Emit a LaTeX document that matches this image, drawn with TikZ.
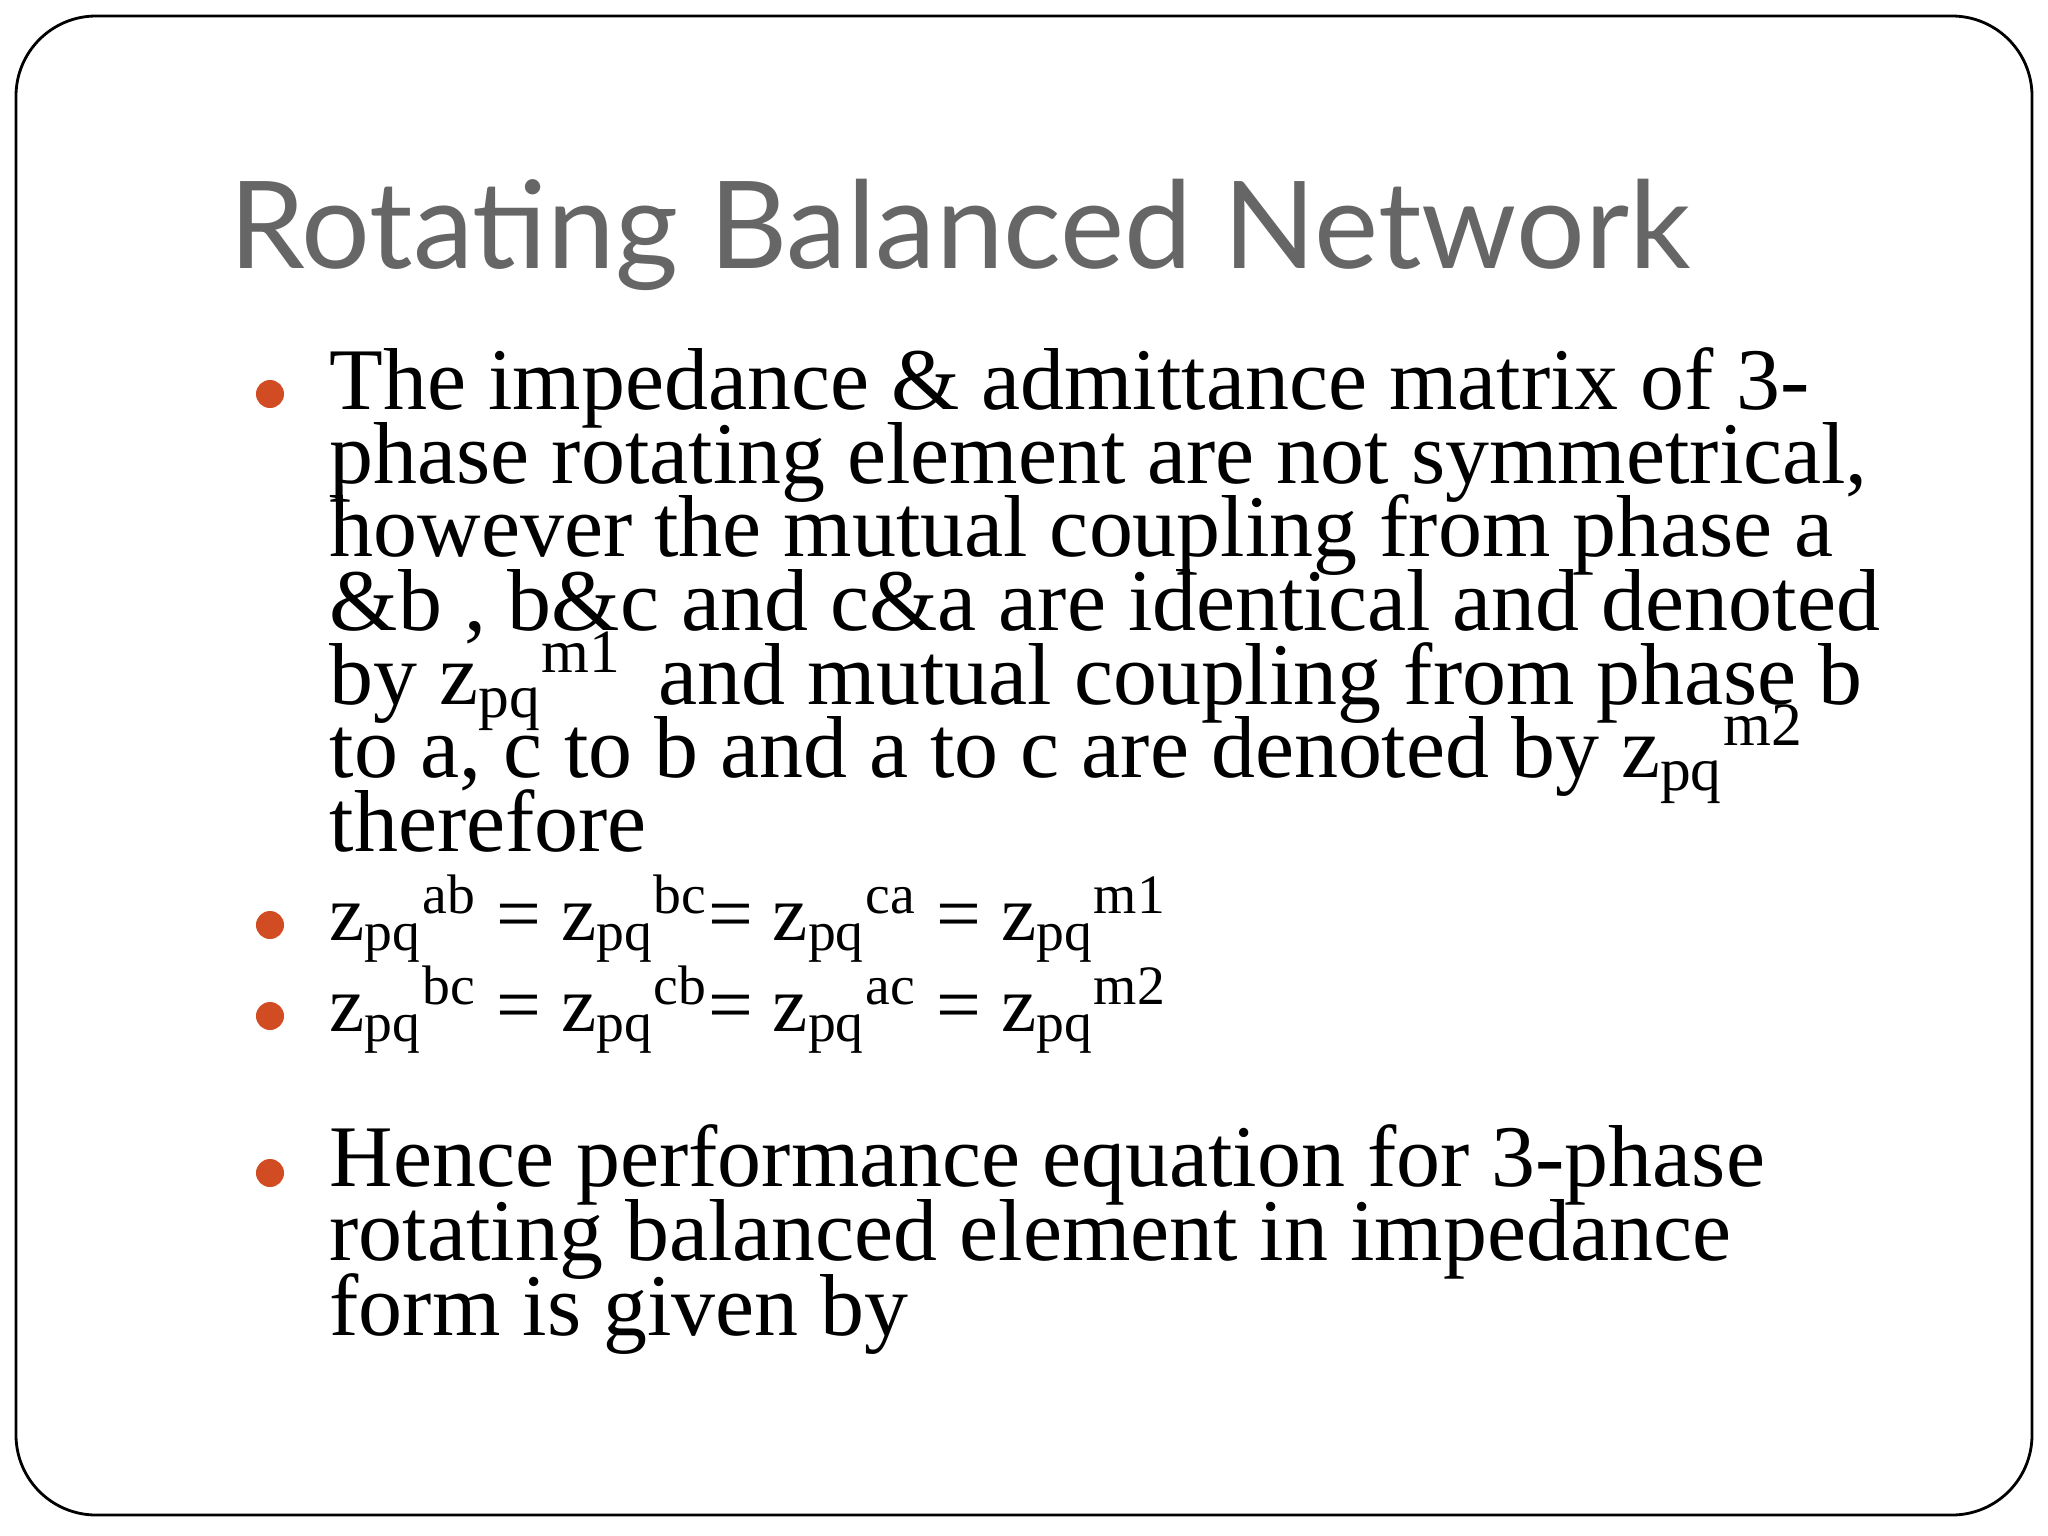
\documentclass[tikz,border=0pt]{standalone}
\usepackage{fontspec}
\setmainfont{Liberation Serif}
\newfontfamily\titlefont{Lato}
\begin{document}
\begin{tikzpicture}[x=0.01cm,y=-0.01cm,
  ln/.style={anchor=base west,inner sep=0pt,font=\fontsize{25pt}{28pt}\selectfont},
  eq/.style={anchor=base west,inner sep=0pt,font=\fontsize{22.6pt}{26pt}\selectfont},
  bul/.style={circle,fill=bulc,inner sep=0pt,minimum size=0.28cm}]
\definecolor{bulc}{RGB}{209,76,34}
\definecolor{tgray}{RGB}{102,102,102}
\useasboundingbox (0,0) rectangle (2048,1536);
\fill[white] (0,0) rectangle (2048,1536);
\draw[line width=0.8pt,rounded corners=0.8cm] (16,16) rectangle (2032,1515);
\node[anchor=base west,inner sep=0pt,text=tgray,font=\titlefont\fontsize{34.5pt}{38pt}\selectfont] (title) at (229,268) {Rotating Balanced Network};
\node[bul] (b1) at (270,394) {};
\node[ln] (l1) at (329,409) {The impedance \& admittance matrix of 3-};
\node[ln] (l2) at (329,483) {phase rotating element are not symmetrical,};
\node[ln] (l3) at (329,556) {however the mutual coupling from phase a};
\node[ln] (l4) at (329,630) {\&b , b\&c and c\&a are identical and denoted};
\node[ln] (l5) at (329,704) {by z\textsubscript{pq}\textsuperscript{m1}\, and mutual coupling from phase b};
\node[ln] (l6) at (329,777) {to a, c to b and a to c are denoted by z\textsubscript{pq}\textsuperscript{m2}};
\node[ln] (l7) at (329,851) {therefore};
\node[bul] (b2) at (270,925) {};
\node[eq] (e1) at (329,940) {z\textsubscript{pq}\textsuperscript{ab} = z\textsubscript{pq}\textsuperscript{bc}= z\textsubscript{pq}\textsuperscript{ca} = z\textsubscript{pq}\textsuperscript{m1}};
\node[bul] (b3) at (270,1016) {};
\node[eq] (e2) at (329,1031) {z\textsubscript{pq}\textsuperscript{bc} = z\textsubscript{pq}\textsuperscript{cb}= z\textsubscript{pq}\textsuperscript{ac} = z\textsubscript{pq}\textsuperscript{m2}};
\node[bul] (b4) at (270,1173) {};
\node[ln] (h1) at (329,1186) {Hence performance equation for 3-phase};
\node[ln] (h2) at (329,1260) {rotating balanced element in impedance};
\node[ln] (h3) at (329,1335) {form is given by};
\end{tikzpicture}
\end{document}
